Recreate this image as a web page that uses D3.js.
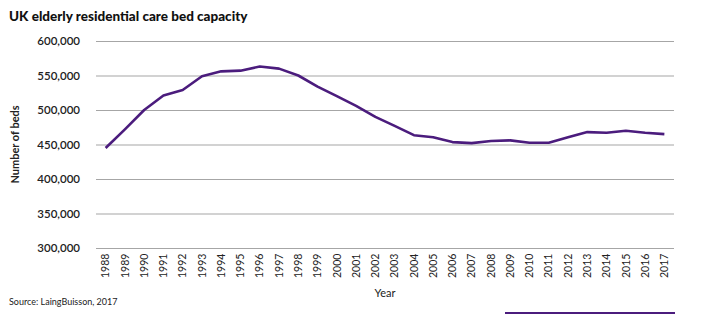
<!DOCTYPE html>
<html>
<head>
<meta charset="utf-8">
<script src="https://cdn.jsdelivr.net/npm/d3@7"></script>
<style>
  body { margin: 0; background: #fff; }
  svg { display: block; font-family: Lato, 'Noto Sans', sans-serif; }
</style>
</head>
<body>
<div id="chart"></div>
<script>
// UK elderly residential care beds, 1988-2017
const years = d3.range(1988, 2018).map(String);
const beds = [
  445000, 472000, 500000, 521000, 529000, 549000, 556000, 557000, 563000, 560000,
  550000, 534000, 520000, 506000, 490000, 477000, 463500, 460500, 453500, 452000,
  455000, 456000, 452500, 452500, 460500, 468000, 467000, 470000, 467000, 465000
];
const yTicks = [300000, 350000, 400000, 450000, 500000, 550000, 600000];

const width = 701, height = 325;
const margin = { top: 41, right: 27, bottom: 77, left: 96 };
const purple = '#4b1c7d';

const svg = d3.select('#chart').append('svg')
  .attr('width', width)
  .attr('height', height);

const x = d3.scaleBand()
  .domain(years)
  .range([margin.left, width - margin.right])
  .padding(0);

const y = d3.scaleLinear()
  .domain([300000, 600000])
  .range([height - margin.bottom, margin.top]);

// title
svg.append('text')
  .attr('x', 9)
  .attr('y', 21)
  .style('font-size', '13.5px')
  .style('font-weight', 900)
  .style('fill', '#111')
  .text('UK elderly residential care bed capacity');

// gridlines + y labels
const yAxis = d3.axisLeft(y)
  .tickValues(yTicks)
  .tickSize(-(width - margin.left - margin.right))
  .tickPadding(16)
  .tickFormat(d3.format(','));

const yAxisG = svg.append('g')
  .attr('transform', `translate(${margin.left},0)`)
  .call(yAxis);

yAxisG.select('.domain').remove();
yAxisG.selectAll('line')
  .style('stroke', '#a6a6a6')
  .style('stroke-width', 1.2);
yAxisG.selectAll('text')
  .style('font-family', 'Lato, sans-serif')
  .style('font-size', '11.5px')
  .style('font-weight', 600)
  .style('fill', '#222');

// x labels, rotated
const xAxis = d3.axisBottom(x).tickSize(0).tickPadding(0);
const xAxisG = svg.append('g')
  .attr('transform', `translate(0,${height - margin.bottom})`)
  .call(xAxis);

xAxisG.select('.domain').remove();
xAxisG.selectAll('text')
  .attr('transform', 'rotate(-90)')
  .attr('x', -30)
  .attr('y', 0)
  .attr('dy', '0.35em')
  .style('text-anchor', 'start')
  .style('font-family', 'Lato, sans-serif')
  .style('font-size', '10.5px')
  .style('fill', '#222');

// axis titles
svg.append('text')
  .attr('x', (margin.left + width - margin.right) / 2)
  .attr('y', 297)
  .attr('text-anchor', 'middle')
  .style('font-size', '11px')
  .style('fill', '#222')
  .text('Year');

svg.append('text')
  .attr('transform', `translate(19,${(margin.top + height - margin.bottom) / 2}) rotate(-90)`)
  .attr('text-anchor', 'middle')
  .style('font-size', '11px')
  .style('font-weight', 700)
  .style('fill', '#222')
  .text('Number of beds');

// the line
const line = d3.line()
  .x((d, i) => x(years[i]) + x.bandwidth() / 2)
  .y(d => y(d));

svg.append('path')
  .datum(beds)
  .attr('d', line)
  .style('fill', 'none')
  .style('stroke', purple)
  .style('stroke-width', 2.6)
  .style('stroke-linejoin', 'round');

// source note
svg.append('text')
  .attr('x', 9)
  .attr('y', 305)
  .style('font-size', '9px')
  .style('fill', '#222')
  .text('Source: LaingBuisson, 2017');

// footer rule
svg.append('line')
  .attr('x1', 505)
  .attr('x2', 675)
  .attr('y1', 313)
  .attr('y2', 313)
  .style('stroke', purple)
  .style('stroke-width', 2);
</script>
</body>
</html>
